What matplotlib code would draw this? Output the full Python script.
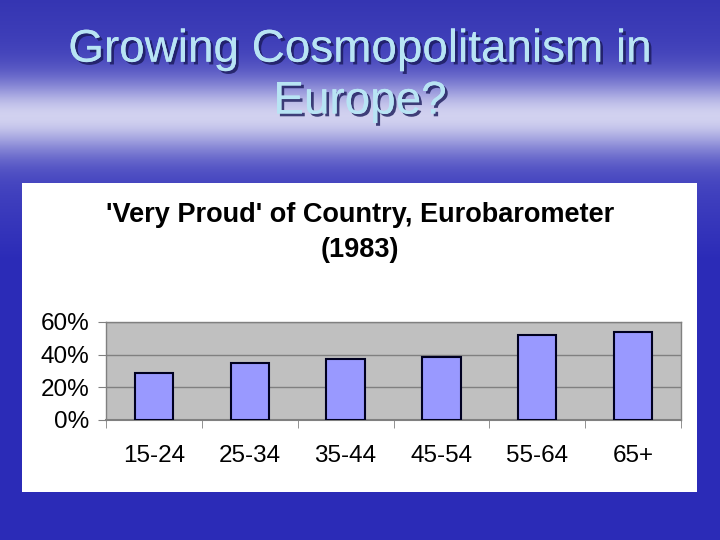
import numpy as np
import matplotlib
matplotlib.use('Agg')
from matplotlib import pyplot as plt
from matplotlib import patheffects as pe
from matplotlib.patches import Rectangle
from matplotlib import font_manager

plt.rcParams['font.family'] = ['Liberation Sans', 'DejaVu Sans']

# data
ages = ['15-24', '25-34', '35-44', '45-54', '55-64', '65+']
very_proud = [0.29, 0.352, 0.373, 0.383, 0.52, 0.541]
yticks = [0, 0.2, 0.4, 0.6]
ylabels = ['0%', '20%', '40%', '60%']

names = set(f.name for f in font_manager.fontManager.ttflist)
title_font = 'Liberation Sans Narrow' if 'Liberation Sans Narrow' in names else 'Liberation Sans'
print(title_font)

fig = plt.figure(figsize=(7.2, 5.4), dpi=100)

# slide background - blue with a lighter "horizon" band
bg = fig.add_axes([0, 0, 1, 1], zorder=0)
yy = np.linspace(0, 1, 540)[:, None]          # (540, 1)
top = np.array([0.21, 0.21, 0.70])
light = np.array([0.82, 0.82, 0.94])
bottom = np.array([0.17, 0.17, 0.72])
w = np.exp(-((yy - 0.215) / 0.065) ** 2)
w2 = np.clip((yy - 0.28) / 0.20, 0, 1)
mid = np.array([0.30, 0.30, 0.76])
base = np.where(yy < 0.2, top * (1 - yy / 0.2) + mid * (yy / 0.2), mid * (1 - w2) + bottom * w2)
img = base * (1 - w) + light * w
img = np.repeat(img[:, None, :], 720, axis=1)  # (540, 720, 3)
bg.imshow(img, aspect='auto', extent=[0, 1, 1, 0])
bg.set_xlim(0, 1)
bg.set_ylim(1, 0)
bg.axis('off')

# white chart panel
bg.add_patch(Rectangle((22 / 720, 183 / 540), 675 / 720, 309 / 540,
                       facecolor='white', edgecolor='none', zorder=2))

shadow = [pe.withSimplePatchShadow(offset=(2, -2), shadow_rgbFace='#1a1a5a', alpha=0.8), pe.Normal()]
fsz = 36 if title_font.endswith('Narrow') else 33
fig.text(0.5, 0.908, 'Growing Cosmopolitanism in', ha='center', va='center', family=title_font,
         fontsize=fsz, color='#b8e4f4', path_effects=shadow, zorder=5)
fig.text(0.5, 0.812, 'Europe?', ha='center', va='center', family=title_font,
         fontsize=fsz, color='#b8e4f4', path_effects=shadow, zorder=5)

fig.text(0.5, 0.602, "'Very Proud' of Country, Eurobarometer", ha='center', va='center',
         fontsize=19.5, fontweight='bold', color='black', zorder=5)
fig.text(0.5, 0.537, '(1983)', ha='center', va='center',
         fontsize=19.5, fontweight='bold', color='black', zorder=5)

ax = fig.add_axes([106 / 720, 1 - 420 / 540, 575 / 720, 98 / 540], zorder=3)
ax.set_facecolor('#c0c0c0')
x = np.arange(len(ages))
ax.bar(x, very_proud, width=0.4, color='#9999ff', edgecolor='#000020', linewidth=1.5, zorder=3)
ax.set_xlim(-0.5, len(ages) - 0.5)
ax.set_ylim(0, 0.6)
ax.set_yticks(yticks)
ax.set_yticklabels(ylabels, fontsize=17.5)
ax.set_xticks(x)
ax.set_xticklabels(ages, fontsize=17.5)
ax.tick_params(axis='x', length=0, pad=18)
ax.set_xticks(np.arange(-0.5, len(ages)), minor=True)
ax.tick_params(axis='x', which='minor', length=6, color='#808080')
ax.tick_params(axis='y', length=6, color='#808080', pad=6)
ax.grid(axis='y', color='#808080', linewidth=1, zorder=1)
ax.set_axisbelow(True)
for s in ['top', 'right', 'left']:
    ax.spines[s].set_color('#808080')
    ax.spines[s].set_linewidth(1)
ax.spines['bottom'].set_color('#808080')
ax.spines['bottom'].set_linewidth(1.5)

fig.savefig('out.png', dpi=100)
